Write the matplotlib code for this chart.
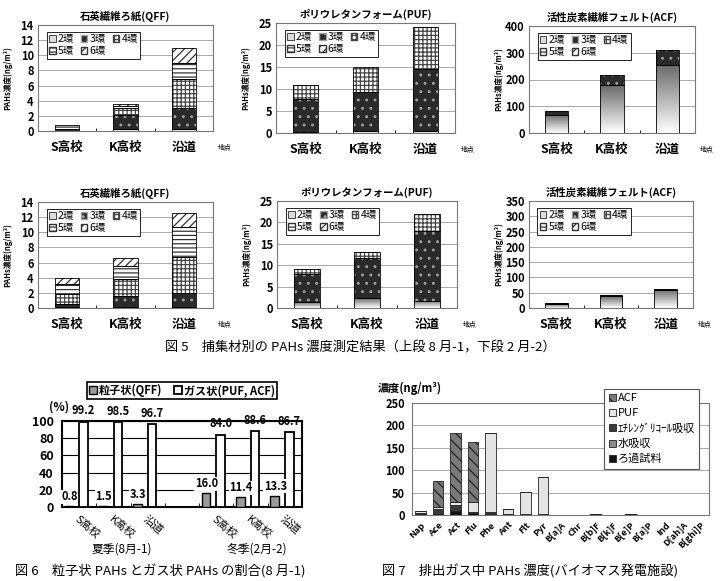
import numpy as np
import matplotlib
matplotlib.use('Agg')
import matplotlib.pyplot as plt
from matplotlib.colors import LinearSegmentedColormap
from matplotlib.patches import Patch

plt.rcParams['font.family'] = ['Noto Sans CJK JP', 'DejaVu Sans']
plt.rcParams['hatch.linewidth'] = 0.9

# ---- 図5 data: rows = 2環..6環, cols = S高校, K高校, 沿道 (ng/m3)
sites = ['S高校', 'K高校', '沿道']
rings = ['2環', '3環', '4環', '5環', '6環']

qff_aug = [[0.05, 0.3, 0.3], [0.15, 1.8, 2.7], [0.1, 0.9, 3.9], [0.45, 0.3, 2.1], [0.0, 0.3, 2.0]]
puf_aug = [[0.2, 0.5, 0.5], [7.6, 8.8, 14.0], [3.0, 5.7, 9.7], [0, 0, 0], [0, 0, 0]]
acf_aug = [[68, 178, 255], [14, 40, 55], [0, 0, 0], [0, 0, 0], [0, 0, 0]]
qff_feb = [[0.1, 0.1, 0.1], [0.4, 1.5, 1.9], [1.4, 2.2, 4.7], [1.3, 1.8, 4.0], [0.7, 1.0, 1.8]]
puf_feb = [[1.3, 2.3, 1.7], [6.7, 9.3, 16.3], [1.2, 1.6, 4.0], [0, 0, 0], [0, 0, 0]]
acf_feb = [[13, 38, 60], [2, 4, 2], [0, 0, 0], [0, 0, 0], [0, 0, 0]]

# ---- 図6 data (%)
cats6 = ['S高校', 'K高校', '沿道', '', 'S高校', 'K高校', '沿道']
particle = [0.8, 1.5, 3.3, np.nan, 16.0, 11.4, 13.3]
gas = [99.2, 98.5, 96.7, np.nan, 84.0, 88.6, 86.7]

# ---- 図7 data (ng/m3)
pahs = ['Nap', 'Ace', 'Act', 'Flu', 'Phe', 'Ant', 'Flt', 'Pyr', 'B[a]A', 'Chr',
        'B[b]F', 'B[k]F', 'B[e]P', 'B[a]P', 'Ind', 'D[ah]A', 'B[ghi]P']
filt = [0.5, 1, 8, 4, 2, 1, 1, 1, 0.3, 0.3, 1, 0.3, 1, 0.3, 0.2, 0.1, 0.2]
water = [1, 1, 2, 1, 1, 0.5, 0.5, 0.5, 0.2, 0.2, 0.5, 0.2, 0.5, 0.2, 0.1, 0.1, 0.1]
eg = [3, 12, 12, 2, 4, 1.5, 1.5, 1, 0, 0, 0.5, 0, 0.5, 0, 0, 0, 0]
puf = [5.5, 4, 8, 23, 175, 10, 49, 82.5, 0, 0, 0, 0, 0, 0, 0, 0, 0]
acf = [0, 59, 153, 132, 0, 0, 0, 0, 0, 0, 0, 0, 0, 0, 0, 0, 0]

W, H = 721, 581
fig = plt.figure(figsize=(W / 100, H / 100), dpi=100)


def add_ax(l, t, r, b):
    return fig.add_axes([l / W, 1 - b / H, (r - l) / W, (b - t) / H])


grad = LinearSegmentedColormap.from_list('g', ['#ffffff', '#6a6a6a'])
ring_style = {'3環': ('#2a2a2a', '..', '#a0a0a0'),
              '4環': ('#ffffff', '++++', '#444444'),
              '5環': ('#ffffff', '----', '#333333'),
              '6環': ('#ffffff', '////', '#333333')}


def stack_panel(ax, data, ymax, step, title):
    x = np.arange(len(sites))
    bottom = np.zeros(len(sites))
    for ring, vals in zip(rings, data):
        vals = np.array(vals, float)
        if ring == '2環':
            bars = ax.bar(x, vals, 0.42, bottom=bottom, facecolor='none', edgecolor='k', lw=0.6, zorder=3)
            for r in bars:
                if r.get_height() > 0:
                    im = ax.imshow(np.linspace(0, 1, 64).reshape(-1, 1), cmap=grad, origin='lower',
                                   aspect='auto', zorder=2,
                                   extent=[r.get_x(), r.get_x() + r.get_width(), r.get_y(), r.get_y() + r.get_height()])
                    im.set_clip_path(r)
        else:
            face, hatch, hc = ring_style[ring]
            m = vals > 0
            ax.bar(x[m], vals[m], 0.42, bottom=bottom[m], color=face, hatch=hatch, edgecolor=hc, lw=0, zorder=2)
            ax.bar(x[m], vals[m], 0.42, bottom=bottom[m], fill=False, edgecolor='k', lw=0.6, zorder=3)
        bottom += vals
    ax.set_xlim(-0.5, 2.5)
    ax.set_ylim(0, ymax)
    ax.set_yticks(np.arange(0, ymax + 0.1, step))
    ax.set_xticks(x)
    ax.set_xticklabels(sites, fontsize=9, fontweight='bold')
    ax.set_xticks([0.5, 1.5], minor=True)
    ax.tick_params(axis='x', which='major', length=0, pad=7)
    ax.tick_params(axis='x', which='minor', length=2, direction='in')
    ax.tick_params(axis='y', length=0, pad=3, labelsize=8)
    for t in ax.get_yticklabels():
        t.set_fontweight('bold')
    ax.yaxis.grid(True, color='#9a9a9a', lw=0.6)
    ax.set_axisbelow(True)
    for s in ax.spines.values():
        s.set_color('#777777')
        s.set_linewidth(0.8)
    ax.set_title(title, fontsize=7.5, fontweight='bold', pad=4)
    ax.set_ylabel('PAHs濃度(ng/m³)', fontsize=5.5, fontweight='bold')
    w = ax.get_position().width * W
    ax.yaxis.set_label_coords(-26 / w, 0.5)
    ax.text(1.07, -0.15, '地点', transform=ax.transAxes, fontsize=5, ha='center', va='center')
    handles = [Patch(facecolor='#dddddd', edgecolor='k', lw=0.5)]
    for ring in rings[1:]:
        face, hatch, hc = ring_style[ring]
        handles.append(Patch(facecolor=face, hatch=hatch, edgecolor=hc))
    order = [0, 3, 1, 4, 2]
    leg = ax.legend([handles[i] for i in order], [rings[i] for i in order], ncol=3,
                    loc='upper left', bbox_to_anchor=(0.02, 0.985), fontsize=7.5,
                    handlelength=0.6, handleheight=0.6, handletextpad=0.2, columnspacing=0.7,
                    labelspacing=0.15, borderpad=0.25, fancybox=False, framealpha=1)
    leg.get_frame().set_edgecolor('k')
    leg.get_frame().set_linewidth(0.6)


stack_panel(add_ax(38, 25, 213, 131), qff_aug, 14, 2, '石英繊維ろ紙(QFF)')
stack_panel(add_ax(276, 23, 455, 133), puf_aug, 25, 5, 'ポリウレタンフォーム(PUF)')
stack_panel(add_ax(529, 26, 695, 133), acf_aug, 400, 100, '活性炭素繊維フェルト(ACF)')
stack_panel(add_ax(38, 202, 213, 308), qff_feb, 14, 2, '石英繊維ろ紙(QFF)')
stack_panel(add_ax(277, 201, 457, 308), puf_feb, 25, 5, 'ポリウレタンフォーム(PUF)')
stack_panel(add_ax(529, 201, 693, 308), acf_feb, 350, 50, '活性炭素繊維フェルト(ACF)')

fig.text(360 / W, 1 - 348 / H, '図 5　捕集材別の PAHs 濃度測定結果（上段 8 月-1，下段 2 月-2）',
         fontsize=9.5, ha='center', va='center')

# ---- 図6
ax6 = add_ax(62, 421, 302, 507)
x6 = np.arange(len(cats6))
ax6.bar(x6 - 0.3, particle, 0.25, color='#999999', edgecolor='k', lw=1, zorder=3, label='粒子状(QFF)')
ax6.bar(x6 + 0.13, gas, 0.25, color='white', edgecolor='k', lw=1.3, zorder=3, label='ガス状(PUF, ACF)')
for xi, p, g in zip(x6, particle, gas):
    if np.isnan(p):
        continue
    ax6.text(xi - 0.28, p + 11, f'{p:.1f}', ha='center', va='center', fontsize=8, fontweight='bold',
             bbox=dict(facecolor='white', edgecolor='none', pad=0.5), zorder=4)
    ax6.text(xi + 0.13, g + 5, f'{g:.1f}', ha='center', va='bottom', fontsize=8, fontweight='bold',
             clip_on=False, zorder=4)
ax6.set_xlim(-0.5, 6.5)
ax6.set_ylim(0, 100)
ax6.set_yticks(np.arange(0, 101, 20))
ax6.yaxis.grid(True, color='k', lw=0.8)
ax6.set_axisbelow(True)
for s in ax6.spines.values():
    s.set_linewidth(1.5)
ax6.tick_params(axis='y', length=0, pad=6, labelsize=9)
for t in ax6.get_yticklabels():
    t.set_fontweight('bold')
ax6.set_xticks(x6)
ax6.set_xticklabels(cats6, rotation=-40, ha='left', va='top', rotation_mode='anchor', fontsize=8)
ax6.set_xticks(np.arange(0.5, 6, 1), minor=True)
ax6.tick_params(axis='x', which='major', length=0, pad=5)
ax6.tick_params(axis='x', which='minor', length=3, direction='in')
leg6 = fig.legend(*ax6.get_legend_handles_labels(), loc='center', ncol=2,
                  bbox_to_anchor=(182 / W, 1 - 390.5 / H),
                  prop={'weight': 'bold', 'size': 8}, handlelength=0.7, handleheight=0.7,
                  handletextpad=0.2, columnspacing=1.0, borderpad=0.2, fancybox=False, framealpha=1)
leg6.get_frame().set_edgecolor('k')
leg6.get_frame().set_linewidth(1.2)
fig.text(59 / W, 1 - 407 / H, '(%)', fontsize=8.5, fontweight='bold', ha='center', va='center')
fig.text(122 / W, 1 - 549 / H, '夏季(8月-1)', fontsize=8.5, ha='center', va='center')
fig.text(257 / W, 1 - 549 / H, '冬季(2月-2)', fontsize=8.5, ha='center', va='center')
fig.text(15 / W, 1 - 571 / H, '図 6　粒子状 PAHs とガス状 PAHs の割合(8 月-1)', fontsize=9.5,
         ha='left', va='center')

# ---- 図7
ax7 = add_ax(412, 403, 709, 515)
x7 = np.arange(len(pahs))
series7 = [('ろ過試料', filt, '#111111', None), ('水吸収', water, '#8a8a8a', None),
           ('ｴﾁﾚﾝｸﾞﾘｺｰﾙ吸収', eg, '#3a3a3a', None), ('PUF', puf, '#e4e4e4', None),
           ('ACF', acf, '#7a7a7a', '\\\\\\')]
bottom7 = np.zeros(len(pahs))
h7 = []
for name, vals, col, hatch in series7:
    vals = np.array(vals, float)
    b = ax7.bar(x7, vals, 0.6, bottom=bottom7, color=col, hatch=hatch, edgecolor='#222222', lw=0.6,
                zorder=3, label=name)
    h7.append(b)
    bottom7 += vals
ax7.set_xlim(-0.5, 16.5)
ax7.set_ylim(0, 250)
ax7.set_yticks(np.arange(0, 251, 50))
ax7.yaxis.grid(True, color='#9a9a9a', lw=0.6)
ax7.set_axisbelow(True)
for s in ax7.spines.values():
    s.set_color('#777777')
    s.set_linewidth(0.8)
ax7.tick_params(axis='y', length=0, pad=5, labelsize=8)
for t in ax7.get_yticklabels():
    t.set_fontweight('bold')
ax7.set_xticks(x7)
ax7.set_xticklabels(pahs, rotation=45, ha='right', va='top', rotation_mode='anchor', fontsize=6.5,
                    fontweight='bold')
ax7.tick_params(axis='x', length=0, pad=4)
leg7 = ax7.legend(h7[::-1], [s[0] for s in series7][::-1], loc='upper right',
                  bbox_to_anchor=(705 / W, 1 - 383 / H), bbox_transform=fig.transFigure, fontsize=8,
                  handlelength=0.6, handleheight=0.6, handletextpad=0.2, labelspacing=0.45,
                  borderpad=0.4, fancybox=False, framealpha=1)
leg7.get_frame().set_edgecolor('#555555')
leg7.get_frame().set_linewidth(0.8)
fig.text(378 / W, 1 - 388 / H, '濃度(ng/m³)', fontsize=8, fontweight='bold', ha='left', va='center')
fig.text(382 / W, 1 - 571 / H, '図 7　排出ガス中 PAHs 濃度(バイオマス発電施設)', fontsize=9.5,
         ha='left', va='center')

fig.savefig('out.png', dpi=100)
